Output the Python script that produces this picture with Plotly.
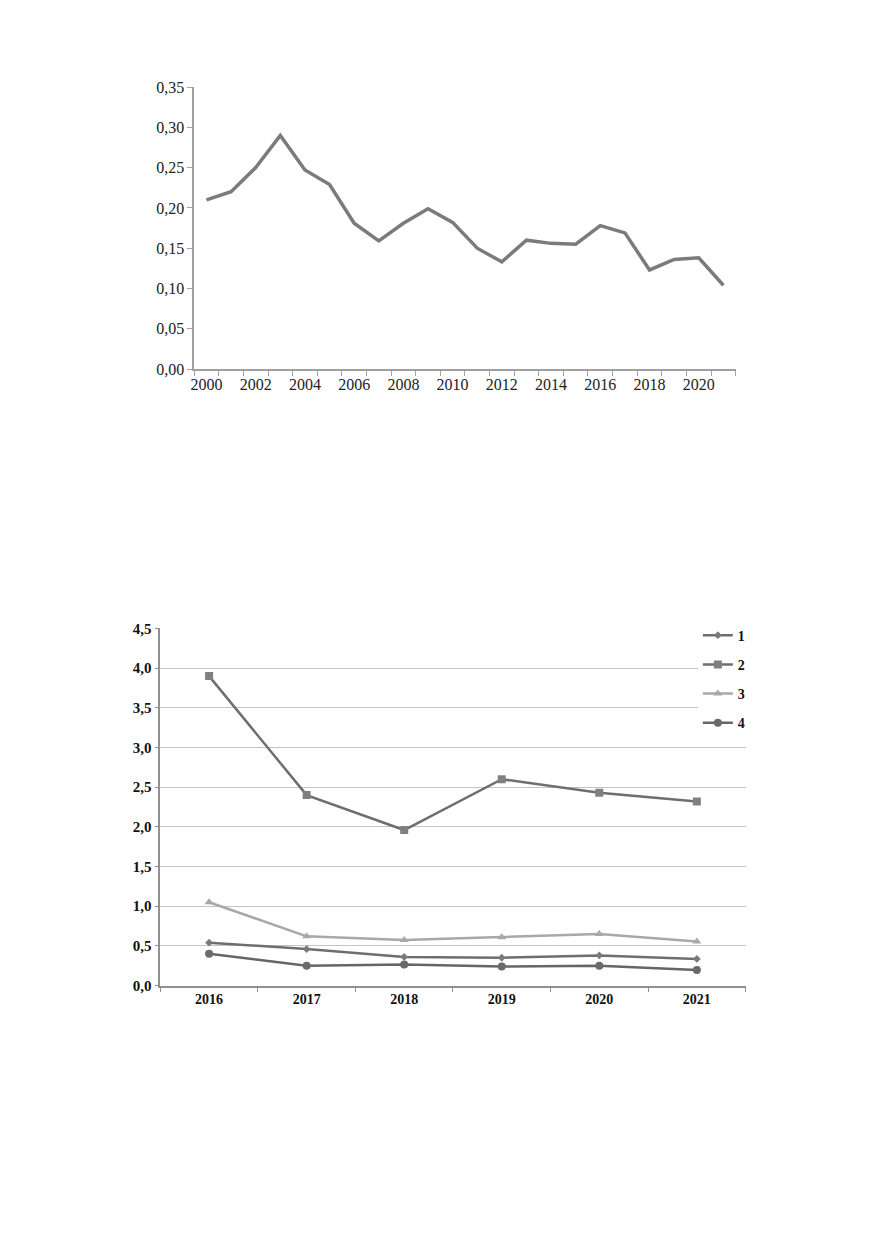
import plotly.graph_objects as go

# Top chart data
years_top = [str(y) for y in range(2000, 2022)]
values_top = [0.210, 0.220, 0.250, 0.290, 0.247, 0.229, 0.181, 0.159, 0.181, 0.199,
              0.182, 0.150, 0.133, 0.160, 0.156, 0.155, 0.178, 0.169, 0.123, 0.136,
              0.138, 0.104]
ticktext_top = [y if int(y) % 2 == 0 else "" for y in years_top]

# Bottom chart data
years_bot = ["2016", "2017", "2018", "2019", "2020", "2021"]
series_names = ["1", "2", "3", "4"]
s1 = [0.54, 0.46, 0.36, 0.35, 0.38, 0.335]
s2 = [3.90, 2.40, 1.96, 2.60, 2.43, 2.32]
s3 = [1.05, 0.62, 0.575, 0.61, 0.65, 0.555]
s4 = [0.40, 0.25, 0.265, 0.24, 0.25, 0.195]

W, H = 875, 1241
fig = go.Figure()

fig.add_trace(go.Scatter(x=years_top, y=values_top, mode="lines",
                         line=dict(color="#7b7b7b", width=3.5),
                         xaxis="x", yaxis="y", showlegend=False))

styles = [
    dict(color="#6e6e6e", mcolor="#7a7a7a", symbol="diamond", size=6, width=2.5),
    dict(color="#6e6e6e", mcolor="#808080", symbol="square", size=8, width=2.5),
    dict(color="#a8a8a8", mcolor="#a8a8a8", symbol="triangle-up", size=8, width=2.5),
    dict(color="#666666", mcolor="#6a6a6a", symbol="circle", size=8, width=2.5),
]
for name, vals, st in zip(series_names, [s1, s2, s3, s4], styles):
    fig.add_trace(go.Scatter(x=years_bot, y=vals, mode="lines+markers", name=name,
                             legendgroup=name,
                             line=dict(color=st["color"], width=st["width"]),
                             marker=dict(symbol=st["symbol"], size=st["size"], color=st["mcolor"]),
                             xaxis="x2", yaxis="y2"))

serif = "Liberation Serif"
fig.update_layout(
    width=W, height=H,
    paper_bgcolor="white", plot_bgcolor="white",
    margin=dict(l=0, r=0, t=0, b=0),
    separators=", ",
    font=dict(family=serif, color="#222222"),
    xaxis=dict(domain=[183 / W, 727 / W], anchor="y", type="category",
               range=[-0.5, len(years_top) - 0.5],
               tickmode="array", tickvals=years_top, ticktext=ticktext_top,
               tickangle=0,
               tickson="boundaries", ticks="outside", ticklen=5, tickcolor="#a0a0a0",
               showline=True, linecolor="#a0a0a0", linewidth=1.5, showgrid=False,
               tickfont=dict(family=serif, size=16, color="#222222"), zeroline=False),
    yaxis=dict(domain=[1 - 358 / H, 1 - 72 / H], anchor="x", range=[0, 0.35],
               dtick=0.05, tickformat=".2f", ticks="outside", ticklen=5,
               tickcolor="#a0a0a0", showline=True, linecolor="#a0a0a0", linewidth=1.5,
               showgrid=False, zeroline=False,
               tickfont=dict(family=serif, size=16, color="#222222")),
    xaxis2=dict(domain=[149 / W, 737 / W], anchor="y2", type="category",
                range=[-0.5, len(years_bot) - 0.5],
                tickson="boundaries", ticks="outside", ticklen=5, tickcolor="#909090",
                showline=True, linecolor="#909090", linewidth=1.5, showgrid=False,
                tickfont=dict(family=serif, size=14, color="#111111", weight="bold"),
                zeroline=False),
    yaxis2=dict(domain=[1 - 983 / H, 1 - 621 / H], anchor="x2", range=[0, 4.5],
                dtick=0.5, tickformat=".1f", ticks="outside", ticklen=4,
                tickcolor="#909090", showline=True, linecolor="#909090", linewidth=1.5,
                showgrid=True, gridcolor="#c4c4c4", gridwidth=1, zeroline=False,
                tickfont=dict(family=serif, size=15, color="#111111", weight="bold")),
    legend=dict(x=689 / W, y=1 - 612 / H, xanchor="left", yanchor="top",
                bgcolor="white", borderwidth=0, tracegroupgap=8,
                font=dict(family=serif, size=14, color="#111111", weight="bold"),
                itemwidth=30),
)

fig.write_html("out.html")
